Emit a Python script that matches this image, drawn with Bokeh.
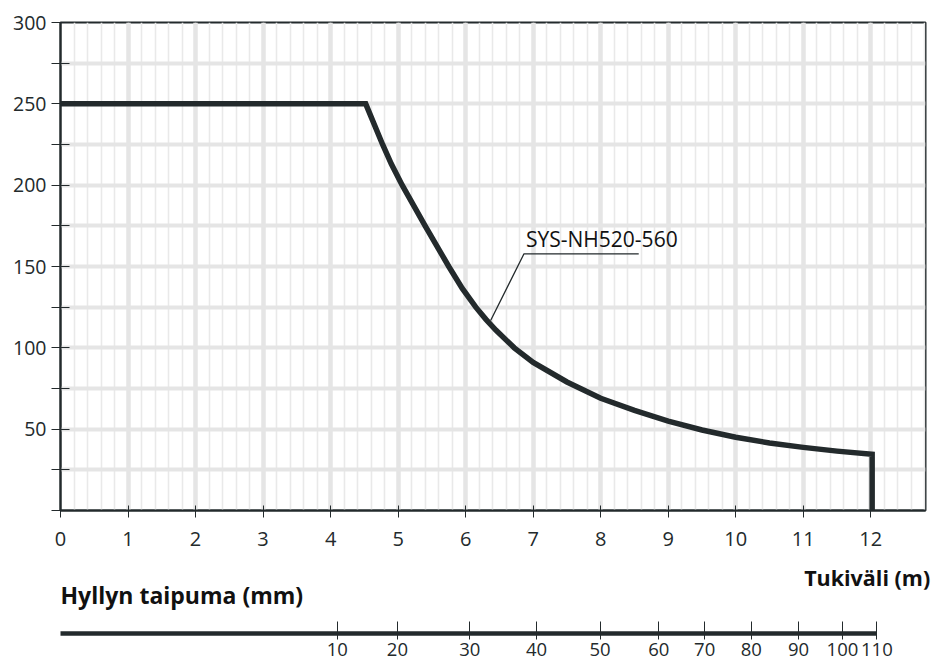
from bokeh.plotting import figure
from bokeh.layouts import column
from bokeh.models import (Range1d, SingleIntervalTicker, FixedTicker, LinearAxis, Label)
from bokeh.embed import file_html
from bokeh.resources import INLINE

# ---- data ----
span_m = [0, 4.52, 4.77, 4.9, 5.06, 5.40, 5.75, 5.95, 6.15, 6.3, 6.45, 6.72, 7.0, 7.5, 8.0,
          8.5, 9.0, 9.5, 10.0, 10.5, 11.0, 11.5, 12.02, 12.02]
load_kg = [250, 250, 225, 213, 200, 175, 150, 136.5, 125, 117.5, 110.8, 100, 91, 79, 69,
           61.5, 55, 49.5, 45, 41.5, 38.8, 36.5, 34.5, 0]
series_name = "SYS-NH520-560"

y_label_values = [50, 100, 150, 200, 250, 300]
deflection_mm = [10, 20, 30, 40, 50, 60, 70, 80, 90, 100, 110]
deflection_pos_m = [4.10, 4.99, 6.06, 7.05, 7.99, 8.86, 9.54, 10.23, 10.93, 11.58, 12.09]

x_title = "Tukiväli (m)"
deflection_title = "Hyllyn taipuma (mm)"

# ---- styling ----
DARK = "#232a2c"
GRID = "#e5e5e5"
GRID_MINOR = "#e9e9e9"
FONT = "Open Sans"
X_MAX = 12.81
FW = 865
PX_PER_M = FW / X_MAX

p = figure(frame_width=FW, frame_height=488, x_range=Range1d(0, X_MAX), y_range=Range1d(0, 300),
           output_backend="svg", toolbar_location=None,
           min_border_left=60, min_border_right=12, min_border_top=22, min_border_bottom=50)
p.background_fill_color = "white"
p.border_fill_color = "white"
p.outline_line_color = DARK
p.outline_line_width = 2

# x axis
p.xaxis.ticker = SingleIntervalTicker(interval=1, num_minor_ticks=5)
p.xaxis.axis_line_color = DARK
p.xaxis.axis_line_width = 2
p.xaxis.major_tick_line_color = DARK
p.xaxis.major_tick_in = 5
p.xaxis.major_tick_out = 7
p.xaxis.minor_tick_line_color = None
p.xaxis.major_label_text_font = FONT
p.xaxis.major_label_text_font_size = "20px"
p.xaxis.major_label_text_color = DARK
p.xaxis.major_label_standoff = 14

# y axis
p.yaxis.ticker = SingleIntervalTicker(interval=25, num_minor_ticks=0)
p.yaxis.major_label_overrides = {v: "" for v in range(0, 301, 25) if v not in y_label_values}
p.yaxis.axis_line_color = DARK
p.yaxis.axis_line_width = 2
p.yaxis.major_tick_line_color = DARK
p.yaxis.major_tick_in = 9
p.yaxis.major_tick_out = 9
p.yaxis.minor_tick_line_color = None
p.yaxis.major_label_text_font = FONT
p.yaxis.major_label_text_font_size = "19.5px"
p.yaxis.major_label_text_color = DARK
p.yaxis.major_label_standoff = 5

# grids
p.xgrid.grid_line_color = GRID
p.xgrid.grid_line_width = 4.5
p.xgrid.minor_grid_line_color = GRID_MINOR
p.xgrid.minor_grid_line_width = 1.6
p.ygrid.grid_line_color = GRID
p.ygrid.grid_line_width = 4

# curve
p.line(span_m, load_kg, line_width=5.5, line_color=DARK, line_join="miter")

# series label with leader line
lbl_x, lbl_y = 6.864, 157.8
pt_x, pt_y = 6.37, 116.8
underline_end = 8.563
p.line([pt_x, lbl_x, underline_end], [pt_y, lbl_y, lbl_y], line_width=1.3, line_color=DARK)
p.add_layout(Label(x=lbl_x + 0.03, y=lbl_y + 0.6, text=series_name, text_font=FONT,
                   text_font_size="21px", text_color="#111111", text_baseline="bottom",
                   text_align="left"))

# ---- lower panel: axis titles and deflection scale ----
FW2 = 877
H2 = 73
p2 = figure(frame_width=FW2, frame_height=H2, x_range=Range1d(0, FW2 / PX_PER_M),
            y_range=Range1d(0, H2),
            output_backend="svg", toolbar_location=None, x_axis_type=None, y_axis_type=None,
            min_border_left=60, min_border_right=0, min_border_top=0, min_border_bottom=28)
p2.outline_line_color = None
p2.xgrid.visible = False
p2.ygrid.visible = False
p2.background_fill_color = "white"
p2.border_fill_color = "white"

p2.add_layout(Label(x=12.88, y=56, text=x_title, text_font=FONT, text_font_size="21.5px",
                    text_font_style="bold", text_color="#111111", text_align="right",
                    text_baseline="middle"))
p2.add_layout(Label(x=0, y=38.5, text=deflection_title, text_font=FONT, text_font_size="23px",
                    text_font_style="bold", text_color="#111111", text_align="left",
                    text_baseline="middle"))

dax = LinearAxis(ticker=FixedTicker(ticks=deflection_pos_m),
                 bounds=(0, deflection_pos_m[-1]),
                 major_label_overrides={pos: str(mm) for pos, mm in zip(deflection_pos_m, deflection_mm)})
dax.axis_line_color = DARK
dax.axis_line_width = 4.5
dax.major_tick_line_color = DARK
dax.major_tick_line_width = 1
dax.major_tick_in = 12
dax.major_tick_out = 6
dax.minor_tick_line_color = None
dax.major_label_text_font = FONT
dax.major_label_text_font_size = "18.5px"
dax.major_label_text_color = DARK
dax.major_label_standoff = 3
p2.add_layout(dax, "below")

layout = column(p, p2, spacing=0)
open("out.html", "w").write(file_html(layout, INLINE))
